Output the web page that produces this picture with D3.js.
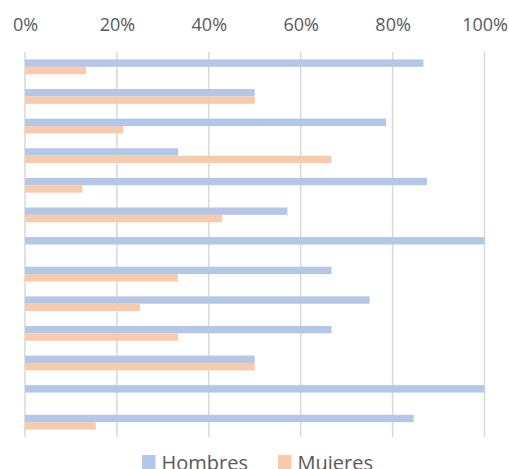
<!DOCTYPE html>
<html><head><meta charset="utf-8">
<script src="https://cdn.jsdelivr.net/npm/d3@7"></script>
<style>body{margin:0;background:#fff}svg{display:block}</style>
</head><body>
<svg id="c" width="509" height="469"></svg>
<script>
const categories = ["1","2","3","4","5","6","7","8","9","10","11","12","13"];
const hombres = [86.7, 50, 78.6, 33.3, 87.5, 57.1, 100, 66.7, 75, 66.7, 50, 100, 84.6];
const mujeres = [13.3, 50, 21.4, 66.7, 12.5, 42.9, 0, 33.3, 25, 33.3, 50, 0, 15.4];
const seriesNames = ["Hombres", "Mujeres"];
const colors = ["#B4C7E7", "#F8CBAD"];
const tickValues = [0, 20, 40, 60, 80, 100];

const svg = d3.select("#c");
const pLeft = 25, pRight = 484.5, pTop = 52, pBottom = 437;
const x = d3.scaleLinear().domain([0, 100]).range([pLeft, pRight]);
const y = d3.scaleBand().domain(categories).range([pTop, pBottom]).paddingInner(0.5).paddingOuter(0.25);
const ys = d3.scaleBand().domain(seriesNames).range([0, y.bandwidth()]);

// gridlines
svg.append("g").selectAll("line").data(tickValues).join("line")
  .attr("x1", d => x(d)).attr("x2", d => x(d))
  .attr("y1", pTop).attr("y2", pBottom)
  .attr("stroke", "#D9D9D9").attr("stroke-width", 1.5);

// top axis labels
const axis = d3.axisTop(x).tickValues(tickValues).tickFormat(d => d + "%").tickSize(0).tickPadding(0);
const ag = svg.append("g").attr("transform", "translate(0,31)").call(axis);
ag.select(".domain").remove();
ag.selectAll("text").attr("font-family", "Open Sans").attr("font-size", 18).attr("fill", "#595959").attr("dy", 0);

const data = [hombres, mujeres];
data.forEach((vals, si) => {
  svg.append("g").selectAll("rect").data(vals).join("rect")
    .attr("x", x(0))
    .attr("y", (d, i) => y(categories[i]) + ys(seriesNames[si]))
    .attr("width", d => x(d) - x(0))
    .attr("height", ys.bandwidth())
    .attr("fill", colors[si]);
});

// legend
const legendItems = [{n: "Hombres", c: colors[0], x: 142}, {n: "Mujeres", c: colors[1], x: 278}];
const lg = svg.append("g");
legendItems.forEach(it => {
  lg.append("rect").attr("x", it.x).attr("y", 455).attr("width", 13.5).attr("height", 14).attr("fill", it.c);
  lg.append("text").attr("x", it.x + 19.5).attr("y", 469.5).text(it.n)
    .attr("font-family", "Open Sans").attr("font-size", 20).attr("fill", "#595959");
});
</script>
</body></html>
